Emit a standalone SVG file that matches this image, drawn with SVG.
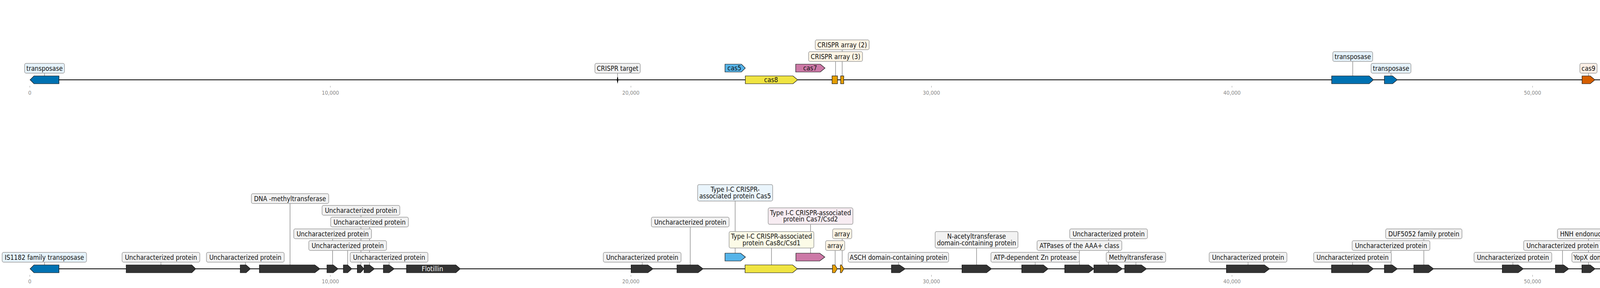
<svg xmlns="http://www.w3.org/2000/svg" width="6600" height="736" viewBox="0 0 6600 736">
<style>
.t{font-family:'DejaVu Sans Condensed','DejaVu Sans',sans-serif;font-stretch:condensed;font-size:17px;fill:#111;text-anchor:middle}
.tw{fill:#fff}
.tl{font-family:'DejaVu Sans Condensed','DejaVu Sans',sans-serif;font-stretch:condensed;font-size:14px;fill:#888;text-anchor:middle}
.bb{stroke:#000;stroke-width:2.2;fill:none}
.tk{stroke:#999;stroke-width:1}
.cn{stroke:#444;stroke-width:0.9}
.g{stroke:#111;stroke-width:1.2}
.dk{fill:#333}
.bl{fill:#0072B2}
.lb{fill:#56B4E9}
.ye{fill:#F0E442}
.pk{fill:#CC79A7}
.or{fill:#E69F00}
.vm{fill:#D55E00}
.bx{stroke:#9a9a9a;stroke-width:1.5}
.fg{fill:#F2F2F2}
.fb{fill:#E6F3FB}
.fc{fill:#EAF5FC}
.fy{fill:#FCFBE7}
.fp{fill:#F7ECF2}
.fo{fill:#FDF5E5}
.fv{fill:#FBEFE6}
</style>
<rect width="6600" height="736" fill="#fff"/>
<g id="axes">
<line class="bb" x1="77" y1="204" x2="6586" y2="204"/>
<line class="bb" x1="77" y1="687" x2="6586" y2="687"/>
<g id="ticks-top">
<line class="tk" x1="76.3" y1="219.5" x2="76.3" y2="223.5"/><text class="tl" x="76.3" y="242">0</text>
<line class="tk" x1="845.7" y1="219.5" x2="845.7" y2="223.5"/><text class="tl" x="845.7" y="242">10,000</text>
<line class="tk" x1="1615.1" y1="219.5" x2="1615.1" y2="223.5"/><text class="tl" x="1615.1" y="242">20,000</text>
<line class="tk" x1="2384.5" y1="219.5" x2="2384.5" y2="223.5"/><text class="tl" x="2384.5" y="242">30,000</text>
<line class="tk" x1="3153.9" y1="219.5" x2="3153.9" y2="223.5"/><text class="tl" x="3153.9" y="242">40,000</text>
<line class="tk" x1="3923.3" y1="219.5" x2="3923.3" y2="223.5"/><text class="tl" x="3923.3" y="242">50,000</text>
<line class="tk" x1="4692.7" y1="219.5" x2="4692.7" y2="223.5"/><text class="tl" x="4692.7" y="242">60,000</text>
<line class="tk" x1="5462.1" y1="219.5" x2="5462.1" y2="223.5"/><text class="tl" x="5462.1" y="242">70,000</text>
<line class="tk" x1="6231.5" y1="219.5" x2="6231.5" y2="223.5"/><text class="tl" x="6231.5" y="242">80,000</text>
</g>
<g id="ticks-bottom">
<line class="tk" x1="76.3" y1="702.5" x2="76.3" y2="707" /><text class="tl" x="76.3" y="724">0</text>
<line class="tk" x1="845.7" y1="702.5" x2="845.7" y2="707"/><text class="tl" x="845.7" y="724">10,000</text>
<line class="tk" x1="1615.1" y1="702.5" x2="1615.1" y2="707"/><text class="tl" x="1615.1" y="724">20,000</text>
<line class="tk" x1="2384.5" y1="702.5" x2="2384.5" y2="707"/><text class="tl" x="2384.5" y="724">30,000</text>
<line class="tk" x1="3153.9" y1="702.5" x2="3153.9" y2="707"/><text class="tl" x="3153.9" y="724">40,000</text>
<line class="tk" x1="3923.3" y1="702.5" x2="3923.3" y2="707"/><text class="tl" x="3923.3" y="724">50,000</text>
<line class="tk" x1="4692.7" y1="702.5" x2="4692.7" y2="707"/><text class="tl" x="4692.7" y="724">60,000</text>
<line class="tk" x1="5462.1" y1="702.5" x2="5462.1" y2="707"/><text class="tl" x="5462.1" y="724">70,000</text>
<line class="tk" x1="6231.5" y1="702.5" x2="6231.5" y2="707"/><text class="tl" x="6231.5" y="724">80,000</text>
</g>
</g>
<g id="connectors">
<line class="cn" x1="114" y1="187" x2="114" y2="194"/>
<line class="cn" x1="1581" y1="187" x2="1581" y2="194"/>
<line class="cn" x1="2139" y1="157" x2="2139" y2="194"/>
<line class="cn" x1="2156" y1="127" x2="2156" y2="194"/>
<line class="cn" x1="3463" y1="157" x2="3463" y2="194"/>
<line class="cn" x1="3561" y1="187" x2="3561" y2="194"/>
<line class="cn" x1="4066.5" y1="187" x2="4066.5" y2="194"/>
<line class="cn" x1="6258" y1="187" x2="6258" y2="194"/>
<line class="cn" x1="6542.5" y1="187" x2="6542.5" y2="194"/>
<line class="cn" x1="114" y1="670" x2="114" y2="677"/>
<line class="cn" x1="412" y1="670" x2="412" y2="677"/>
<line class="cn" x1="628" y1="670" x2="628" y2="677"/>
<line class="cn" x1="742.5" y1="520" x2="742.5" y2="677"/>
<line class="cn" x1="851.5" y1="610" x2="851.5" y2="677"/>
<line class="cn" x1="890" y1="640" x2="890" y2="677"/>
<line class="cn" x1="924" y1="550" x2="924" y2="677"/>
<line class="cn" x1="946" y1="580" x2="946" y2="677"/>
<line class="cn" x1="996" y1="670" x2="996" y2="677"/>
<line class="cn" x1="1644" y1="670" x2="1644" y2="677"/>
<line class="cn" x1="1767" y1="580" x2="1767" y2="677"/>
<line class="cn" x1="1882" y1="513.7" x2="1882" y2="647"/>
<line class="cn" x1="1975" y1="633.7" x2="1975" y2="677"/>
<line class="cn" x1="2075" y1="573.3" x2="2075" y2="647"/>
<line class="cn" x1="2138" y1="640" x2="2138" y2="677"/>
<line class="cn" x1="2156" y1="610" x2="2156" y2="677"/>
<line class="cn" x1="2300" y1="670" x2="2300" y2="677"/>
<line class="cn" x1="2500" y1="633.7" x2="2500" y2="677"/>
<line class="cn" x1="2650" y1="670" x2="2650" y2="677"/>
<line class="cn" x1="2763.3" y1="640" x2="2763.3" y2="677"/>
<line class="cn" x1="2838" y1="610" x2="2838" y2="677"/>
<line class="cn" x1="2908" y1="670" x2="2908" y2="677"/>
<line class="cn" x1="3195" y1="670" x2="3195" y2="677"/>
<line class="cn" x1="3462.6" y1="670" x2="3462.6" y2="677"/>
<line class="cn" x1="3561" y1="640" x2="3561" y2="677"/>
<line class="cn" x1="3645" y1="610" x2="3645" y2="677"/>
<line class="cn" x1="3873" y1="670" x2="3873" y2="677"/>
<line class="cn" x1="4000" y1="640" x2="4000" y2="677"/>
<line class="cn" x1="4066.5" y1="610" x2="4066.5" y2="677"/>
<line class="cn" x1="4150" y1="670" x2="4150" y2="677"/>
<line class="cn" x1="4248" y1="580" x2="4248" y2="677"/>
<line class="cn" x1="4327.5" y1="640" x2="4327.5" y2="677"/>
<line class="cn" x1="4360" y1="610" x2="4360" y2="647"/>
<line class="cn" x1="4705" y1="663.7" x2="4705" y2="677"/>
<line class="cn" x1="4943" y1="670" x2="4943" y2="677"/>
<line class="cn" x1="5437.5" y1="670" x2="5437.5" y2="677"/>
<line class="cn" x1="5684.4" y1="603.3" x2="5684.4" y2="677"/>
<line class="cn" x1="5793" y1="663" x2="5793" y2="677"/>
<line class="cn" x1="6067" y1="670" x2="6067" y2="677"/>
<line class="cn" x1="6258" y1="670" x2="6258" y2="677"/>
<line class="cn" x1="6382.3" y1="633.7" x2="6382.3" y2="677"/>
<line class="cn" x1="6543" y1="670" x2="6543" y2="677"/>
</g>
<g id="top-track">
<g id="t-transposase-1"><polygon class="g bl" points="151,194 87,194 77,204 87,214 151,214"/><rect class="bx fb" x="63" y="162" width="102" height="25" rx="4"/><text class="t" x="114" y="181">transposase</text></g>
<g id="t-crispr-target"><polygon fill="#111" points="1581,194 1583.3,204 1581,214 1578.7,204"/><rect class="bx fg" x="1523" y="162" width="116" height="25" rx="4"/><text class="t" x="1581" y="181">CRISPR target</text></g>
<g id="t-cas5"><polygon class="g lb" points="1856,164 1898,164 1908,174 1898,184 1856,184"/><text class="t" x="1880" y="180">cas5</text></g>
<g id="t-cas8"><polygon class="g ye" points="1908,194 2030,194 2042,204 2030,214 1908,214"/><text class="t" x="1974" y="210">cas8</text></g>
<g id="t-cas7"><polygon class="g pk" points="2037,164 2100,164 2112,174 2100,184 2037,184"/><text class="t" x="2074" y="180">cas7</text></g>
<g id="t-crispr-array-3"><rect class="g or" x="2130" y="194" width="14" height="20"/><rect class="bx fo" x="2070" y="132" width="138" height="25" rx="4"/><text class="t" x="2139" y="151">CRISPR array (3)</text></g>
<g id="t-crispr-array-2"><rect class="g or" x="2152" y="194" width="8" height="20"/><rect class="bx fo" x="2087" y="102" width="138" height="25" rx="4"/><text class="t" x="2156" y="121">CRISPR array (2)</text></g>
<g id="t-transposase-2"><polygon class="g bl" points="3409,194 3505,194 3516,204 3505,214 3409,214"/><rect class="bx fb" x="3412" y="132" width="102" height="25" rx="4"/><text class="t" x="3463" y="151">transposase</text></g>
<g id="t-transposase-3"><polygon class="g bl" points="3544,194 3565,194 3577,204 3565,214 3544,214"/><rect class="bx fb" x="3510" y="162" width="102" height="25" rx="4"/><text class="t" x="3561" y="181">transposase</text></g>
<g id="t-cas9-1"><polygon class="g vm" points="4050,194 4071,194 4083,204 4071,214 4050,214"/><rect class="bx fv" x="4044.5" y="162" width="44" height="25" rx="4"/><text class="t" x="4066.5" y="181">cas9</text></g>
<g id="t-transposase-4"><polygon class="g bl" points="4645,194 4748,194 4761,204 4748,214 4645,214"/><text class="t tw" x="4703" y="210">transposase</text></g>
<g id="t-cas9-2"><polygon class="g vm" points="6234,194 6266,194 6282,204 6266,214 6234,214"/><rect class="bx fv" x="6235" y="162" width="46" height="25" rx="4"/><text class="t" x="6258" y="181">cas9</text></g>
<g id="t-transposase-5"><polygon class="g bl" points="6499,194 6572,194 6586,204 6572,214 6499,214"/><rect class="bx fb" x="6491.5" y="162" width="102" height="25" rx="4"/><text class="t" x="6542.5" y="181">transposase</text></g>
</g>
<g id="bottom-track">
<g id="b01"><polygon class="g bl" points="151,677 87,677 77,687 87,697 151,697"/><rect class="bx fb" x="5.5" y="645" width="216" height="25" rx="4"/><text class="t" x="113.5" y="664">IS1182 family transposase</text></g>
<g id="b02"><polygon class="g dk" points="323,677 491,677 501,687 491,697 323,697"/><rect class="bx fg" x="312.5" y="645" width="199" height="25" rx="4"/><text class="t" x="412" y="664">Uncharacterized protein</text></g>
<g id="b03"><polygon class="g dk" points="615,677 630,677 641,687 630,697 615,697"/><rect class="bx fg" x="528.5" y="645" width="199" height="25" rx="4"/><text class="t" x="628" y="664">Uncharacterized protein</text></g>
<g id="b04"><polygon class="g dk" points="664,677 806,677 819,687 806,697 664,697"/><rect class="bx fg" x="643.5" y="495" width="198" height="25" rx="4"/><text class="t" x="742.5" y="514">DNA -methyltransferase</text></g>
<g id="b05"><polygon class="g dk" points="837,677 853,677 865.5,687 853,697 837,697"/><rect class="bx fg" x="752" y="585" width="199" height="25" rx="4"/><text class="t" x="851.5" y="604">Uncharacterized protein</text></g>
<g id="b06"><polygon class="g dk" points="879,677 890,677 900.5,687 890,697 879,697"/><rect class="bx fg" x="790.5" y="615" width="199" height="25" rx="4"/><text class="t" x="890" y="634">Uncharacterized protein</text></g>
<g id="b07"><polygon class="g dk" points="914.7,677 923,677 931.7,687 923,697 914.7,697"/><rect class="bx fg" x="824.5" y="525" width="199" height="25" rx="4"/><text class="t" x="924" y="544">Uncharacterized protein</text></g>
<g id="b08"><polygon class="g dk" points="932,677 946,677 958.7,687 946,697 932,697"/><rect class="bx fg" x="846.5" y="555" width="199" height="25" rx="4"/><text class="t" x="946" y="574">Uncharacterized protein</text></g>
<g id="b09"><polygon class="g dk" points="981.4,677 996,677 1009.5,687 996,697 981.4,697"/><rect class="bx fg" x="896.5" y="645" width="199" height="25" rx="4"/><text class="t" x="996" y="664">Uncharacterized protein</text></g>
<g id="b10"><polygon class="g dk" points="1040.7,677 1167,677 1178.3,687 1167,697 1040.7,697"/><text class="t tw" x="1107" y="693">Flotillin</text></g>
<g id="b11"><polygon class="g dk" points="1615.6,677 1658.5,677 1671.8,687 1658.5,697 1615.6,697"/><rect class="bx fg" x="1544.5" y="645" width="199" height="25" rx="4"/><text class="t" x="1644" y="664">Uncharacterized protein</text></g>
<g id="b12"><polygon class="g dk" points="1733,677 1787,677 1800,687 1787,697 1733,697"/><rect class="bx fg" x="1667.5" y="555" width="199" height="25" rx="4"/><text class="t" x="1767" y="574">Uncharacterized protein</text></g>
<g id="b13"><polygon class="g lb" points="1856,647 1896,647 1908.4,657 1896,667 1856,667"/><rect class="bx fc" x="1786" y="471.7" width="192" height="42" rx="4"/><text class="t" x="1882" y="490">Type I-C CRISPR-</text><text class="t" x="1882" y="506.5">associated protein Cas5</text></g>
<g id="b14"><polygon class="g ye" points="1907.3,677 2029,677 2041.2,687 2029,697 1907.3,697"/><rect class="bx fy" x="1866.5" y="591.7" width="217" height="42" rx="4"/><text class="t" x="1975" y="610">Type I-C CRISPR-associated</text><text class="t" x="1975" y="626.5">protein Cas8c/Csd1</text></g>
<g id="b15"><polygon class="g pk" points="2037.5,647 2098.4,647 2111.6,657 2098.4,667 2037.5,667"/><rect class="bx fp" x="1966.5" y="531.3" width="217" height="42" rx="4"/><text class="t" x="2075" y="549.6">Type I-C CRISPR-associated</text><text class="t" x="2075" y="566.1">protein Cas7/Csd2</text></g>
<g id="b16"><polygon class="g or" points="2131,677 2137.5,677 2143.4,687 2137.5,697 2131,697"/><rect class="bx fo" x="2113.5" y="615" width="49" height="25" rx="4"/><text class="t" x="2138" y="634">array</text></g>
<g id="b17"><polygon class="g or" points="2151.3,677 2154.5,677 2160.3,687 2154.5,697 2151.3,697"/><rect class="bx fo" x="2131.5" y="585" width="49" height="25" rx="4"/><text class="t" x="2156" y="604">array</text></g>
<g id="b18"><polygon class="g dk" points="2282,677 2303,677 2317.5,687 2303,697 2282,697"/><rect class="bx fg" x="2171.5" y="645" width="257" height="25" rx="4"/><text class="t" x="2300" y="664">ASCH domain-containing protein</text></g>
<g id="b19"><polygon class="g dk" points="2462.6,677 2525.6,677 2538.3,687 2525.6,697 2462.6,697"/><rect class="bx fg" x="2394" y="591.7" width="212" height="42" rx="4"/><text class="t" x="2500" y="610">N-acetyltransferase</text><text class="t" x="2500" y="626.5">domain-containing protein</text></g>
<g id="b20"><polygon class="g dk" points="2615.6,677 2671,677 2683.4,687 2671,697 2615.6,697"/><rect class="bx fg" x="2536.7" y="645" width="226.6" height="25" rx="4"/><text class="t" x="2650" y="664">ATP-dependent Zn protease</text></g>
<g id="b21"><polygon class="g dk" points="2725.7,677 2787,677 2800.3,687 2787,697 2725.7,697"/><rect class="bx fg" x="2654.8" y="615" width="217" height="25" rx="4"/><text class="t" x="2763.3" y="634">ATPases of the AAA+ class</text></g>
<g id="b22"><polygon class="g dk" points="2800.3,677 2859.6,677 2873.4,687 2859.6,697 2800.3,697"/><rect class="bx fg" x="2738.5" y="585" width="199" height="25" rx="4"/><text class="t" x="2838" y="604">Uncharacterized protein</text></g>
<g id="b23"><polygon class="g dk" points="2879.2,677 2922,677 2935.3,687 2922,697 2879.2,697"/><rect class="bx fg" x="2831.8" y="645" width="152.4" height="25" rx="4"/><text class="t" x="2908" y="664">Methyltransferase</text></g>
<g id="b24"><polygon class="g dk" points="3139.6,677 3237,677 3250.2,687 3237,697 3139.6,697"/><rect class="bx fg" x="3095.5" y="645" width="199" height="25" rx="4"/><text class="t" x="3195" y="664">Uncharacterized protein</text></g>
<g id="b25"><polygon class="g dk" points="3408.6,677 3503,677 3516,687 3503,697 3408.6,697"/><rect class="bx fg" x="3363" y="645" width="199" height="25" rx="4"/><text class="t" x="3462.6" y="664">Uncharacterized protein</text></g>
<g id="b26"><polygon class="g dk" points="3544,677 3564,677 3577.5,687 3564,697 3544,697"/><rect class="bx fg" x="3461.5" y="615" width="199" height="25" rx="4"/><text class="t" x="3561" y="634">Uncharacterized protein</text></g>
<g id="b27"><polygon class="g dk" points="3619.3,677 3657,677 3670,687 3657,697 3619.3,697"/><rect class="bx fg" x="3547.3" y="585" width="195.3" height="25" rx="4"/><text class="t" x="3645" y="604">DUF5052 family protein</text></g>
<g id="b28"><polygon class="g dk" points="3845.8,677 3886.6,677 3899.8,687 3886.6,697 3845.8,697"/><rect class="bx fg" x="3773.5" y="645" width="199" height="25" rx="4"/><text class="t" x="3873" y="664">Uncharacterized protein</text></g>
<g id="b29"><polygon class="g dk" points="3981.8,677 4003,677 4016.3,687 4003,697 3981.8,697"/><rect class="bx fg" x="3900.5" y="615" width="199" height="25" rx="4"/><text class="t" x="4000" y="634">Uncharacterized protein</text></g>
<g id="b30"><polygon class="g dk" points="4049.6,677 4071,677 4083.5,687 4071,697 4049.6,697"/><rect class="bx fg" x="3987" y="585" width="159" height="25" rx="4"/><text class="t" x="4066.5" y="604">HNH endonuclease</text></g>
<g id="b31"><polygon class="g dk" points="4132.3,677 4155.6,677 4168.3,687 4155.6,697 4132.3,697"/><rect class="bx fg" x="4024" y="645" width="252" height="25" rx="4"/><text class="t" x="4150" y="664">YopX domain-containing protein</text></g>
<g id="b32"><polygon class="g dk" points="4240.3,677 4245,677 4255.6,687 4245,697 4240.3,697"/><rect class="bx fg" x="4148.5" y="555" width="199" height="25" rx="4"/><text class="t" x="4248" y="574">Uncharacterized protein</text></g>
<g id="b33"><polygon class="g dk" points="4302.7,677 4338.7,677 4350.9,687 4338.7,697 4302.7,697"/><rect class="bx fg" x="4228" y="615" width="199" height="25" rx="4"/><text class="t" x="4327.5" y="634">Uncharacterized protein</text></g>
<g id="b34"><polygon class="g dk" points="4346,647 4360.4,647 4374.7,657 4360.4,667 4346,667"/><rect class="bx fg" x="4260.5" y="585" width="199" height="25" rx="4"/><text class="t" x="4360" y="604">Uncharacterized protein</text></g>
<g id="b35"><polygon class="g bl" points="4645.7,677 4751,677 4762.7,687 4751,697 4645.7,697"/><rect class="bx fb" x="4624" y="619.7" width="161.5" height="44" rx="4"/><text class="t" x="4705" y="639">OrfB_IS605 domain-</text><text class="t" x="4705" y="656">containing protein</text></g>
<g id="b36"><polygon class="g dk" points="4933.2,677 4940,677 4951.8,687 4940,697 4933.2,697"/><rect class="bx fg" x="4844" y="645" width="198" height="25" rx="4"/><text class="t" x="4943" y="664">DNA -methyltransferase</text></g>
<g id="b37"><polygon class="g bl" points="5396.4,677 5465,677 5476.8,687 5465,697 5396.4,697"/><rect class="bx fb" x="5310.5" y="645" width="254" height="25" rx="4"/><text class="t" x="5437.5" y="664">Plasmid recombination enzyme</text></g>
<g id="b38"><polygon class="g dk" points="5619.8,677 5736,677 5748.2,687 5736,697 5619.8,697"/><rect class="bx fg" x="5582.2" y="561.3" width="204.4" height="42" rx="4"/><text class="t" x="5684.4" y="579.6">Single-stranded-DNA-</text><text class="t" x="5684.4" y="596.1">specific exonuclease RecJ</text></g>
<g id="b39"><polygon class="g dk" points="5833.2,677 5765,677 5753,687 5765,697 5833.2,697"/><rect class="bx fg" x="5673.3" y="621.3" width="239.5" height="42" rx="4"/><text class="t" x="5793" y="639.6">ATPase family associated with</text><text class="t" x="5793" y="656.1">various cellular activities</text></g>
<g id="b40"><polygon class="g dk" points="6025.8,677 6095,677 6107.5,687 6095,697 6025.8,697"/><rect class="bx fg" x="5967.5" y="645" width="199" height="25" rx="4"/><text class="t" x="6067" y="664">Uncharacterized protein</text></g>
<g id="b41"><polygon class="g dk" points="6233.7,677 6268,677 6282,687 6268,697 6233.7,697"/><rect class="bx fg" x="6178.2" y="645" width="159.6" height="25" rx="4"/><text class="t" x="6258" y="664">HNH endonuclease</text></g>
<g id="b42"><polygon class="g dk" points="6342.8,677 6407,677 6420.7,687 6407,697 6342.8,697"/><rect class="bx fg" x="6309.3" y="591.7" width="146" height="42" rx="4"/><text class="t" x="6382.3" y="610">CCA tRNA nucleot</text><text class="t" x="6382.3" y="626.5">idyltransferase</text></g>
<g id="b43"><polygon class="g bl" points="6499.7,677 6574,677 6586.3,687 6574,697 6499.7,697"/><rect class="bx fb" x="6500" y="645" width="86.3" height="25" rx="4"/><text class="t" x="6543" y="664">Integrase</text></g>
</g>
</svg>
